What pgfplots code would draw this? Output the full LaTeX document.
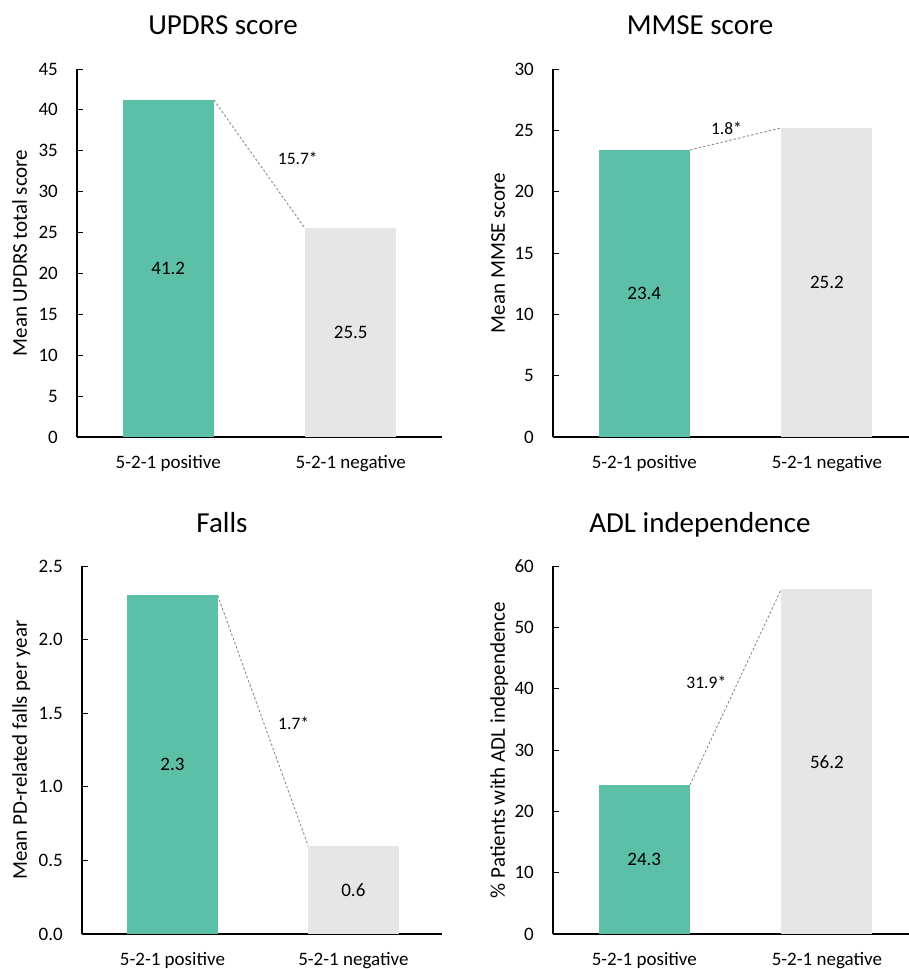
\documentclass[border=0pt]{standalone}
\usepackage{pgfplots}
\pgfplotsset{compat=1.18}
\usepackage{fontspec}
\setmainfont{Carlito}
\definecolor{posgreen}{HTML}{5BC0A7}
\definecolor{neggrey}{HTML}{E6E6E6}
\definecolor{dashgrey}{HTML}{8C8C8C}
\pgfplotsset{
  panel/.style={
    scale only axis,
    height=368pt,
    ymin=0,
    xmin=-0.5,
    axis x line*=bottom,
    axis y line*=left,
    axis line style={black, line width=1.1pt},
    tick align=inside,
    major tick length=6pt,
    ytick style={black, line width=1pt},
    xtick style={draw=none},
    xtick={0,1},
    xticklabels={5-2-1 positive,5-2-1 negative},
    /pgf/number format/assume math mode=true,
    tick label style={font=\fontsize{19}{22}\selectfont},
    yticklabel style={anchor=east, inner sep=0pt, xshift=-19pt},
    xticklabel style={anchor=base, inner sep=0pt, yshift=-31pt},
    ylabel style={font=\fontsize{21}{24}\selectfont, anchor=base, inner sep=0pt},
    clip=false,
  },
  posbar/.style={ybar, bar width=0.5, fill=posgreen, draw=none, bar shift=0pt},
  negbar/.style={ybar, bar width=0.5, fill=neggrey, draw=none, bar shift=0pt},
  diffline/.style={dashgrey, line width=0.9pt, dash pattern=on 2.5pt off 2pt, mark=none},
}
\newcommand{\vlab}{\fontsize{19}{22}\selectfont}
\newcommand{\dlab}{\fontsize{17.5}{20}\selectfont}
\newcommand{\tlab}{\fontsize{29}{34}\selectfont}
\begin{document}
\begin{tikzpicture}
\useasboundingbox (0,0) rectangle (909pt,-969pt);
% UPDRS
\begin{axis}[panel, at={(77pt,-437pt)}, anchor=south west, width=365pt,
  xmax=1.5, ymax=45, ytick={0,5,...,45},
  ylabel={Mean UPDRS total score},
  ylabel style={at={(axis description cs:-0.137,0.5)}}]
  \addplot[posbar] coordinates {(0,41.2)};
  \addplot[negbar] coordinates {(1,25.5)};
  \addplot[diffline] coordinates {(0.25,41.2) (0.75,25.5)};
  \node[font=\vlab] at (axis cs:0,20.6) {41.2};
  \node[font=\vlab] at (axis cs:1,12.75) {25.5};
  \node[font=\dlab] at (axis cs:0.71,34.1) {15.7*};
\end{axis}
% MMSE
\begin{axis}[panel, at={(553pt,-437pt)}, anchor=south west, width=356pt,
  xmax=1.45, ymax=30, ytick={0,5,...,30},
  ylabel={Mean MMSE score},
  ylabel style={at={(axis description cs:-0.135,0.5)}}]
  \addplot[posbar] coordinates {(0,23.4)};
  \addplot[negbar] coordinates {(1,25.2)};
  \addplot[diffline] coordinates {(0.25,23.4) (0.75,25.2)};
  \node[font=\vlab] at (axis cs:0,11.7) {23.4};
  \node[font=\vlab] at (axis cs:1,12.6) {25.2};
  \node[font=\dlab] at (axis cs:0.45,25.2) {1.8*};
\end{axis}
% Falls
\begin{axis}[panel, at={(82pt,-934pt)}, anchor=south west, width=360pt,
  xmax=1.49, ymax=2.5, ytick={0,0.5,...,2.5},
  yticklabel style={/pgf/number format/.cd, fixed, fixed zerofill, precision=1},
  ylabel={Mean PD-related falls per year},
  ylabel style={at={(axis description cs:-0.153,0.5)}}]
  \addplot[posbar] coordinates {(0,2.3)};
  \addplot[negbar] coordinates {(1,0.6)};
  \addplot[diffline] coordinates {(0.25,2.3) (0.75,0.6)};
  \node[font=\vlab] at (axis cs:0,1.15) {2.3};
  \node[font=\vlab] at (axis cs:1,0.3) {0.6};
  \node[font=\dlab] at (axis cs:0.67,1.43) {1.7*};
\end{axis}
% ADL
\begin{axis}[panel, at={(553pt,-934pt)}, anchor=south west, width=356pt,
  xmax=1.45, ymax=60, ytick={0,10,...,60},
  ylabel={\% Patients with ADL independence},
  ylabel style={at={(axis description cs:-0.135,0.5)}}]
  \addplot[posbar] coordinates {(0,24.3)};
  \addplot[negbar] coordinates {(1,56.2)};
  \addplot[diffline] coordinates {(0.25,24.3) (0.75,56.2)};
  \node[font=\vlab] at (axis cs:0,12.15) {24.3};
  \node[font=\vlab] at (axis cs:1,28.1) {56.2};
  \node[font=\dlab] at (axis cs:0.34,41.1) {31.9*};
\end{axis}
% titles
\node[font=\tlab, anchor=base] at (223pt,-34pt) {UPDRS score};
\node[font=\tlab, anchor=base] at (700pt,-34pt) {MMSE score};
\node[font=\tlab, anchor=base] at (222pt,-532pt) {Falls};
\node[font=\tlab, anchor=base] at (700pt,-532pt) {ADL independence};
\end{tikzpicture}
\end{document}
